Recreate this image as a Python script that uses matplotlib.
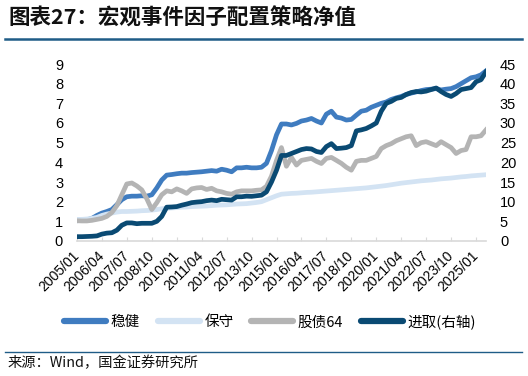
import matplotlib
matplotlib.use("Agg")
import matplotlib.pyplot as plt
import matplotlib.dates as mdates
from matplotlib.lines import Line2D
import pandas as pd

plt.rcParams['font.family'] = ['Noto Sans CJK SC', 'DejaVu Sans']

# quarterly sampled dates 2005/01 .. 2025/07
dates = pd.date_range('2005-01-01', periods=83, freq='3MS')

wenjian = [1.03, 1.05, 1.08, 1.15, 1.3, 1.42, 1.5, 1.6, 1.85, 2.1, 2.25, 2.28, 2.28, 2.3, 2.28, 2.35,
           2.7, 3.1, 3.35, 3.38, 3.42, 3.45, 3.45, 3.48, 3.5, 3.52, 3.55, 3.58, 3.55, 3.65, 3.6, 3.52,
           3.72, 3.72, 3.75, 3.72, 3.72, 3.75, 3.95, 4.6, 5.4, 5.95, 5.95, 5.9, 5.98, 6.1, 6.15, 6.23,
           6.1, 6.0, 6.45, 6.6, 6.3, 6.25, 6.15, 6.18, 6.4, 6.6, 6.65, 6.8, 6.9, 7.0, 7.07, 7.2,
           7.28, 7.35, 7.45, 7.52, 7.58, 7.65, 7.7, 7.72, 7.75, 7.68, 7.72, 7.75, 7.85, 8.0, 8.15, 8.3,
           8.35, 8.45, 8.65]

baoshou = [1.1, 1.1, 1.12, 1.15, 1.2, 1.3, 1.37, 1.42, 1.47, 1.5, 1.5, 1.51, 1.52, 1.54, 1.55, 1.57,
           1.6, 1.64, 1.66, 1.68, 1.7, 1.72, 1.73, 1.75, 1.76, 1.77, 1.78, 1.8, 1.82, 1.83, 1.84, 1.86,
           1.88, 1.89, 1.9, 1.93, 1.96, 2.0, 2.1, 2.2, 2.3, 2.38, 2.4, 2.42, 2.43, 2.45, 2.47, 2.48,
           2.5, 2.52, 2.54, 2.56, 2.58, 2.6, 2.62, 2.64, 2.66, 2.68, 2.7, 2.73, 2.76, 2.79, 2.82, 2.86,
           2.9, 2.94, 2.97, 3.0, 3.03, 3.06, 3.08, 3.1, 3.13, 3.16, 3.18, 3.2, 3.23, 3.26, 3.28, 3.31,
           3.33, 3.35, 3.37]

guzhai64 = [1.03, 1.02, 1.02, 1.05, 1.1, 1.15, 1.25, 1.45, 1.8, 2.35, 2.9, 2.95, 2.8, 2.6, 2.15, 1.6,
            1.95, 2.35, 2.55, 2.5, 2.65, 2.55, 2.42, 2.65, 2.7, 2.72, 2.62, 2.68, 2.55, 2.5, 2.42, 2.38,
            2.5, 2.55, 2.55, 2.55, 2.58, 2.6, 2.78, 3.3, 4.1, 4.75, 3.8, 4.25, 3.86, 4.1, 4.15, 4.2,
            4.05, 3.94, 4.2, 4.25, 4.1, 3.95, 3.75, 3.6, 4.05, 4.1, 4.1, 4.2, 4.3, 4.7, 4.85, 4.95,
            5.1, 5.2, 5.3, 5.35, 4.85, 5.0, 5.05, 4.95, 4.85, 5.05, 4.9, 4.75, 4.45, 4.6, 4.65, 5.3,
            5.3, 5.35, 5.65]

jinqu = [1.1, 1.1, 1.15, 1.2, 1.3, 1.75, 2.0, 2.1, 2.75, 4.0, 4.6, 4.6, 4.4, 4.5, 4.5, 4.5,
         5.0, 6.25, 8.6, 8.65, 8.75, 9.1, 9.4, 9.75, 9.9, 10.0, 10.25, 10.4, 10.25, 10.6, 10.5, 10.4,
         11.25, 11.25, 11.4, 11.35, 11.5, 11.65, 12.5, 15.0, 18.0, 21.75, 21.75, 22.25, 22.75, 23.25, 23.5, 23.4,
         22.75, 22.5, 24.0, 24.75, 23.5, 23.6, 23.75, 24.25, 28.0, 28.25, 28.6, 29.25, 30.0, 33.0, 35.0, 35.5,
         36.25, 36.5, 37.25, 37.75, 38.0, 37.9, 38.1, 38.5, 38.9, 38.0, 37.25, 36.75, 37.5, 38.5, 38.75, 39.0,
         40.5, 41.0, 43.0]

labels = ['稳健', '保守', '股债64', '进取(右轴)']
colors = ['#3F7CC0', '#D3E3F3', '#B4B4B4', '#0A4A73']

tick_dates = pd.date_range('2005-01-01', '2025-01-01', freq='15MS')

W, H = 528, 376
fig = plt.figure(figsize=(W / 100, H / 100), dpi=100)

ax = fig.add_axes([77 / W, 1 - 241 / H, (486 - 77) / W, (241 - 64) / H])
ax2 = ax.twinx()

lw = 3.4
ax.plot(dates, wenjian, color=colors[0], lw=lw, solid_joinstyle='round')
ax.plot(dates, baoshou, color=colors[1], lw=lw, solid_joinstyle='round')
ax.plot(dates, guzhai64, color=colors[2], lw=lw, solid_joinstyle='round')
ax2.plot(dates, jinqu, color=colors[3], lw=lw, solid_joinstyle='round')

ax.set_xlim(dates[0], dates[-1])
ax.set_ylim(0, 9)
ax2.set_ylim(0, 45)
ax.set_yticks(range(0, 10))
ax2.set_yticks(range(0, 46, 5))

for a in (ax, ax2):
    for s in ['top', 'left', 'right', 'bottom']:
        a.spines[s].set_visible(False)
    a.tick_params(axis='y', length=0, labelsize=10.5, pad=10)
ax.spines['bottom'].set_visible(True)
ax.spines['bottom'].set_color('#D9D9D9')
ax.spines['bottom'].set_linewidth(1.2)

for lab in ax.get_yticklabels() + ax2.get_yticklabels():
    lab.set_fontfamily(['Liberation Sans', 'DejaVu Sans'])

ax.set_xticks(tick_dates)
ax.xaxis.set_major_formatter(mdates.DateFormatter('%Y/%m'))
ax.tick_params(axis='x', direction='in', length=3, color='#D9D9D9', labelsize=10, pad=9)
for lab in ax.get_xticklabels():
    lab.set_rotation(45)
    lab.set_ha('right')
    lab.set_va('center')
    lab.set_rotation_mode('anchor')
    lab.set_fontfamily(['Liberation Sans', 'DejaVu Sans'])

# title
fig.text(8 / W, 1 - 18 / H, '图表27：宏观事件因子配置策略净值', fontsize=15.5, fontweight='bold',
         ha='left', va='center', color='#111111')
fig.add_artist(Line2D([5 / W, 522 / W], [1 - 39 / H, 1 - 39 / H], color='#1F5C87', lw=1.8))
fig.add_artist(Line2D([5 / W, 522 / W], [1 - 352 / H, 1 - 352 / H], color='#1F5C87', lw=1.0))
fig.text(8 / W, 1 - 363 / H, '来源：Wind，国金证券研究所', fontsize=10.3, ha='left', va='center', color='#111111')

handles = [Line2D([], [], color=c, lw=4.5, solid_capstyle='round') for c in colors]
fig.legend(handles, labels, loc='center', bbox_to_anchor=(270 / W, 1 - 322 / H), ncol=4, frameon=False,
           fontsize=10.5, handlelength=2.9, handletextpad=0.3, columnspacing=1.2)

fig.savefig('out.png', dpi=100)
